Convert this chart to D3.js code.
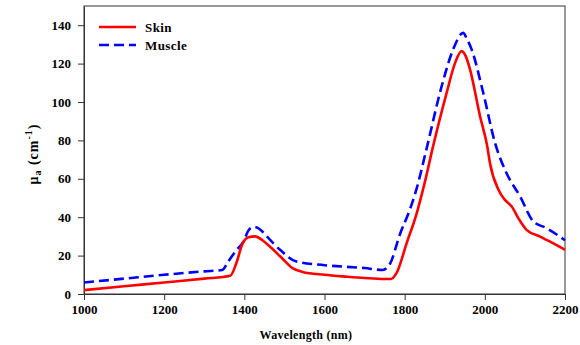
<!DOCTYPE html>
<meta charset="utf-8">
<head>
	<title>Absorption: skin and muscle</title>
	<script src="https://cdnjs.cloudflare.com/ajax/libs/d3/7.8.5/d3.min.js" charset="utf-8"></script>
</head>

<style type="text/css">
	body {
		margin: 0;
		background: #fff;
	}
	text {
		font-family: "Liberation Serif", "Times New Roman", serif;
		font-weight: bold;
		fill: #000;
	}
	.axis text {
		font-family: "Liberation Serif", "Times New Roman", serif;
		font-size: 13px;
	}
	.axis path, .axis line {
		stroke: #333;
	}
</style>

<body>
	<div id=divContainer></div>

	<script>
		// data
		var skinWl = [1000, 1100, 1200, 1300, 1365, 1380, 1395, 1410, 1427, 1445, 1465, 1490, 1520, 1545,
			1600, 1655, 1700, 1750, 1765, 1780, 1805, 1830, 1850, 1871, 1905, 1926, 1942, 1952, 1963,
			1988, 2006, 2013, 2034, 2050, 2067, 2085, 2104, 2138, 2170, 2200];
		var skinMua = [2, 4, 6, 8, 9.5, 16, 26, 29.5, 30, 28, 24.5, 19.5, 13.5, 11.5,
			10, 9, 8.3, 7.8, 7.8, 11, 26.5, 42, 58, 77, 105, 120.5, 126.5, 124, 117,
			92.6, 77, 68, 54.3, 49, 45.6, 39, 33.4, 29.9, 26.5, 23];

		var muscleWl = [1000, 1100, 1200, 1300, 1345, 1360, 1381, 1397, 1410, 1422, 1440, 1456, 1489, 1530,
			1600, 1700, 1745, 1764, 1788, 1813, 1830, 1855, 1892, 1921, 1946, 1955, 1967,
			1996, 2025, 2054, 2088, 2121, 2154, 2200];
		var muscleMua = [6, 8, 10, 11.8, 12.5, 17, 23, 27, 33, 35, 33.5, 30, 23, 16.9,
			15, 13.5, 12.5, 16, 31, 44, 55, 76, 108, 127.4, 136, 133, 127.4,
			104.8, 79, 63, 50.8, 37.8, 34.3, 28];

		var xTicks = [1000, 1200, 1400, 1600, 1800, 2000, 2200];
		var yTicks = [0, 20, 40, 60, 80, 100, 120, 140];

		var margin = {top: 6, right: 15, bottom: 51, left: 84};
		var width = 580 - margin.left - margin.right,
				height = 345 - margin.top - margin.bottom;

		var xScale = d3.scaleLinear().domain([1000, 2200]).range([0, width]);
		var yScale = d3.scaleLinear().domain([0, 150]).range([height, 0]);

		var svg = d3.select("#divContainer").append("svg")
			.attr("width", 580)
			.attr("height", 345);

		var g = svg.append("g")
			.attr("transform", "translate(" + margin.left + "," + margin.top + ")");

		// frame
		g.append("rect")
			.attr("width", width)
			.attr("height", height)
			.attr("fill", "none")
			.attr("stroke", "#333");

		g.append("g")
			.attr("class", "axis")
			.attr("transform", "translate(0," + height + ")")
			.call(d3.axisBottom(xScale).tickValues(xTicks).tickFormat(d3.format("d"))
				.tickSize(6).tickPadding(5).tickSizeOuter(0));

		g.append("g")
			.attr("class", "axis")
			.call(d3.axisLeft(yScale).tickValues(yTicks).tickFormat(d3.format("d"))
				.tickSize(6).tickPadding(7).tickSizeOuter(0));

		var line = d3.line()
			.x(function(d) { return xScale(d[0]); })
			.y(function(d) { return yScale(d[1]); })
			.curve(d3.curveMonotoneX);

		var series = [
			{name: "Skin", pts: d3.zip(skinWl, skinMua), color: "#ff0000", dash: null},
			{name: "Muscle", pts: d3.zip(muscleWl, muscleMua), color: "#0000ff", dash: "10,5"}
		];

		// draw muscle first so skin sits on top
		g.selectAll(".curve")
			.data(series.slice().reverse())
		 .enter().append("path")
			.attr("class", "curve")
			.attr("d", function(d) { return line(d.pts); })
			.attr("fill", "none")
			.attr("stroke", function(d) { return d.color; })
			.attr("stroke-width", 2.6)
			.attr("stroke-dasharray", function(d) { return d.dash; });

		// legend
		var legend = g.selectAll(".legend")
			.data(series)
		 .enter().append("g")
			.attr("class", "legend")
			.attr("transform", function(d, i) { return "translate(15," + (21 + i * 18) + ")"; });

		legend.append("line")
			.attr("x1", 0).attr("x2", 37)
			.attr("stroke", function(d) { return d.color; })
			.attr("stroke-width", 2.6)
			.attr("stroke-dasharray", function(d) { return d.dash; });

		legend.append("text")
			.attr("x", 46)
			.attr("dy", "0.35em")
			.style("font-size", "13px")
			.style("letter-spacing", "0.4px")
			.text(function(d) { return d.name; });

		// axis titles
		svg.append("text")
			.attr("x", 306)
			.attr("y", 339)
			.style("text-anchor", "middle")
			.style("font-size", "12px")
			.style("letter-spacing", "0.3px")
			.text("Wavelength (nm)");

		var yt = svg.append("text")
			.attr("transform", "translate(38,154) rotate(-90)")
			.style("text-anchor", "middle")
			.style("font-size", "14px")
			.style("letter-spacing", "1px");
		yt.append("tspan").text("\u03bc");
		yt.append("tspan").attr("dy", 3).style("font-size", "10px").text("a");
		yt.append("tspan").attr("dy", -3).text(" (cm");
		yt.append("tspan").attr("dy", -6).style("font-size", "10px").text("-1");
		yt.append("tspan").attr("dy", 6).text(")");
	</script>
</body>
